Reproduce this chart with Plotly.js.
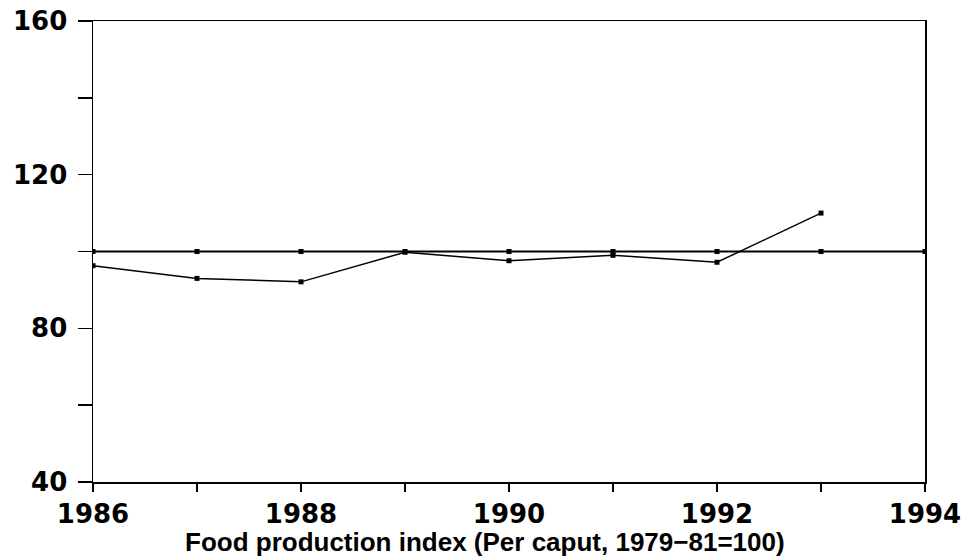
<!DOCTYPE html>
<html>
<head>
<meta charset="utf-8">
<script src="https://cdn.plot.ly/plotly-3.0.1.min.js"></script>
<style>
html,body{margin:0;padding:0;background:#fff;}
#chart{width:970px;height:560px;}
</style>
</head>
<body>
<div id="chart"></div>
<script>
var years = [1986, 1987, 1988, 1989, 1990, 1991, 1992, 1993, 1994];
var baseline = [100, 100, 100, 100, 100, 100, 100, 100, 100];
var seriesYears = [1986, 1987, 1988, 1989, 1990, 1991, 1992, 1993];
var seriesValues = [96.3, 93.0, 92.1, 99.8, 97.6, 99.0, 97.2, 110.0];
var xTickVals = [1986, 1987, 1988, 1989, 1990, 1991, 1992, 1993, 1994];
var xTickText = ["1986", "", "1988", "", "1990", "", "1992", "", "1994"];
var yTickVals = [40, 60, 80, 100, 120, 140, 160];
var yTickText = ["40", "", "80", "", "120", "", "160"];
var xTitle = "Food production index (Per caput, 1979\u221281=100)";

var traces = [
  {
    x: years, y: baseline, type: "scatter", mode: "lines+markers",
    line: {color: "#000", width: 2.2},
    marker: {symbol: "square", size: 5, color: "#000"},
    showlegend: false, hoverinfo: "skip"
  },
  {
    x: seriesYears, y: seriesValues, type: "scatter", mode: "lines+markers",
    line: {color: "#000", width: 1.5},
    marker: {symbol: "square", size: 5, color: "#000"},
    showlegend: false, hoverinfo: "skip"
  }
];

var tickFont = {family: "DejaVu Sans", size: 26, color: "#000", weight: "bold"};

var layout = {
  width: 970, height: 560,
  paper_bgcolor: "#fff", plot_bgcolor: "#fff",
  margin: {l: 93, r: 45, t: 21, b: 78},
  showlegend: false,
  xaxis: {
    range: [1986, 1994],
    tickmode: "array", tickvals: xTickVals, ticktext: xTickText,
    ticks: "outside", ticklen: 8, tickwidth: 1.5, tickcolor: "#000",
    showline: true, linecolor: "#000", linewidth: 1.5, mirror: true,
    showgrid: false, zeroline: false,
    tickfont: tickFont
  },
  yaxis: {
    range: [40, 160],
    tickmode: "array", tickvals: yTickVals, ticktext: yTickText,
    ticks: "outside", ticklen: 14, tickwidth: 1.5, tickcolor: "#000",
    ticklabelstandoff: 5,
    showline: true, linecolor: "#000", linewidth: 1.5, mirror: true,
    showgrid: false, zeroline: false,
    tickfont: tickFont
  },
  annotations: [{
    text: "<b>" + xTitle + "</b>",
    xref: "paper", yref: "paper",
    x: 0.471, y: -0.1304, xanchor: "center", yanchor: "middle",
    showarrow: false,
    font: {family: "Liberation Sans, Arial", size: 26, color: "#000"}
  }]
};

Plotly.newPlot("chart", traces, layout, {displayModeBar: false, staticPlot: true});
</script>
</body>
</html>
